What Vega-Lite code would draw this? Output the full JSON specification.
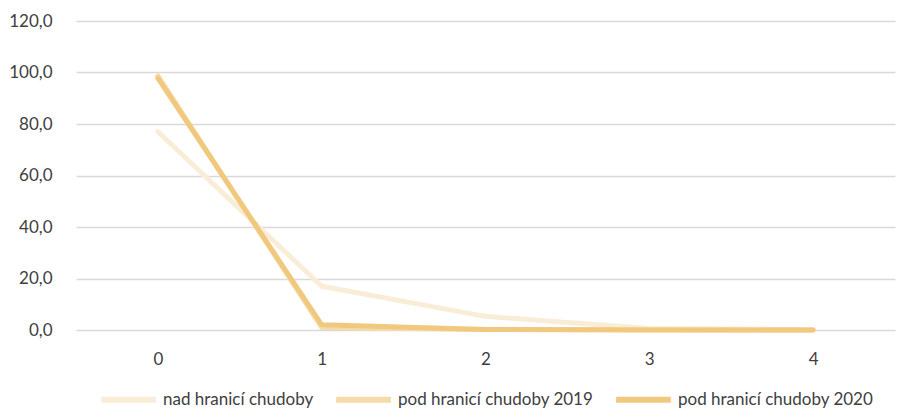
{
  "$schema": "https://vega.github.io/schema/vega-lite/v6.json",
  "width": 915,
  "height": 418,
  "autosize": {"type": "fit", "contains": "padding"},
  "padding": {"left": 8, "top": 12, "right": 20, "bottom": 6},
  "config": {
    "locale": {"number": {"decimal": ",", "thousands": " ", "grouping": [3], "currency": ["", " Kč"]}},
    "view": {"stroke": null},
    "font": "Lato",
    "legend": {"layout": {"bottom": {"anchor": "middle"}}}
  },
  "data": {
    "values": [
      {"x": "0", "s": "nad hranicí chudoby", "v": 77.0},
      {"x": "1", "s": "nad hranicí chudoby", "v": 17.0},
      {"x": "2", "s": "nad hranicí chudoby", "v": 5.3},
      {"x": "3", "s": "nad hranicí chudoby", "v": 0.6},
      {"x": "4", "s": "nad hranicí chudoby", "v": 0.1},
      {"x": "0", "s": "pod hranicí chudoby 2019", "v": 98.7},
      {"x": "1", "s": "pod hranicí chudoby 2019", "v": 1.0},
      {"x": "2", "s": "pod hranicí chudoby 2019", "v": 0.2},
      {"x": "3", "s": "pod hranicí chudoby 2019", "v": 0.1},
      {"x": "4", "s": "pod hranicí chudoby 2019", "v": 0.0},
      {"x": "0", "s": "pod hranicí chudoby 2020", "v": 97.8},
      {"x": "1", "s": "pod hranicí chudoby 2020", "v": 2.0},
      {"x": "2", "s": "pod hranicí chudoby 2020", "v": 0.2},
      {"x": "3", "s": "pod hranicí chudoby 2020", "v": 0.0},
      {"x": "4", "s": "pod hranicí chudoby 2020", "v": 0.0}
    ]
  },
  "mark": {"type": "line", "strokeWidth": 5, "strokeCap": "round", "strokeJoin": "round"},
  "encoding": {
    "x": {
      "field": "x", "type": "ordinal", "title": null,
      "scale": {"paddingInner": 0, "paddingOuter": 0.5},
      "axis": {"labelAngle": 0, "domain": false, "ticks": false, "labelPadding": 21, "labelFontSize": 17, "labelColor": "#404040", "grid": false}
    },
    "y": {
      "field": "v", "type": "quantitative", "title": null,
      "scale": {"domain": [0, 120]},
      "axis": {"values": [0, 20, 40, 60, 80, 100, 120], "format": ".1f", "domain": false, "ticks": false, "labelPadding": 24, "labelFontSize": 17, "labelColor": "#404040", "gridColor": "#d9d9d9", "gridWidth": 1.3}
    },
    "color": {
      "field": "s", "type": "nominal", "title": null,
      "scale": {"domain": ["nad hranicí chudoby", "pod hranicí chudoby 2019", "pod hranicí chudoby 2020"], "range": ["#FAEDD8", "#F6DBA8", "#F0C97F"]},
      "legend": {"orient": "bottom", "direction": "horizontal", "symbolType": "stroke", "symbolSize": 3000, "symbolStrokeWidth": 6, "labelFontSize": 17, "labelLimit": 400, "labelColor": "#404040", "columnPadding": 10, "labelOffset": 4, "offset": 2}
    }
  }
}
